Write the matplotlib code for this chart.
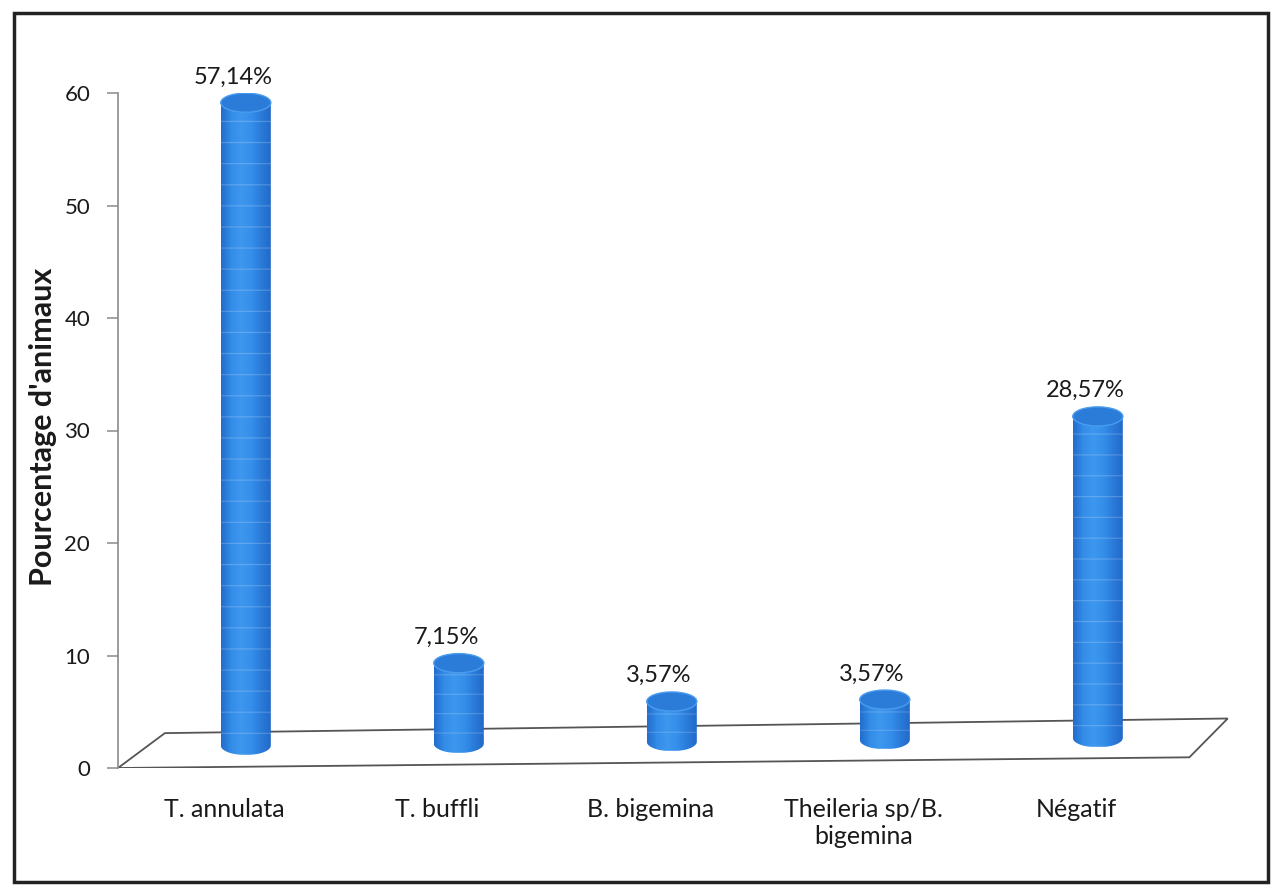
import numpy as np
import matplotlib
matplotlib.use('Agg')
import matplotlib.pyplot as plt
from matplotlib.patches import Ellipse, Polygon, PathPatch, Rectangle
from matplotlib.path import Path

# Data
categories = ['T. annulata', 'T. buffli', 'B. bigemina', 'Theileria sp/B.\nbigemina', 'Négatif']
values = [57.14, 7.15, 3.57, 3.57, 28.57]
value_labels = ['57,14%', '7,15%', '3,57%', '3,57%', '28,57%']
yticks = [0, 10, 20, 30, 40, 50, 60]

plt.rcParams['font.family'] = ['Lato', 'DejaVu Sans']

W, H = 1276, 885
fig = plt.figure(figsize=(W / 100, H / 100), dpi=100)

# axes placed in pixel terms: y axis at x=118, 0 at y=768, 60 at y=93
ax_left, ax_right = 118, 1240
ax_top, ax_bot = 93, 768
ax = fig.add_axes([ax_left / W, 1 - ax_bot / H, (ax_right - ax_left) / W, (ax_bot - ax_top) / H])
px_per_unit = 213.0
x0 = -0.6
ax.set_xlim(x0, x0 + (ax_right - ax_left) / px_per_unit)
ax.set_ylim(0, 60)

for s in ['top', 'right', 'bottom']:
    ax.spines[s].set_visible(False)
ax.spines['left'].set_color('#8a8a8a')
ax.spines['left'].set_linewidth(1.2)
ax.set_xticks([])
ax.set_yticks(yticks)
ax.tick_params(axis='y', direction='out', length=8, width=1.1, color='#8a8a8a',
               labelsize=16, pad=12, labelcolor='#1a1a1a')
ax.set_ylabel("Pourcentage d'animaux", fontsize=22, fontweight='bold', color='#1a1a1a')
ax.yaxis.set_label_coords(-(ax_left - 57) / (ax_right - ax_left), 0.505)

# floor of the 3D plot (slightly tilted, as on the printed page)
floor = Polygon([(-0.6, 0.0), (4.43, 0.95), (4.61, 4.4), (-0.38, 3.1)], closed=True,
                facecolor='none', edgecolor='#555555', linewidth=1.3, zorder=1)
ax.add_patch(floor)

# cylinder styling
bar_w = 0.235
ell_h = 1.7
cmap = matplotlib.colors.LinearSegmentedColormap.from_list(
    'cyl', ['#226ccc', '#338de8', '#3d97ee', '#358fea', '#2a7ad8', '#2068c8'])

for i, (val, lab) in enumerate(zip(values, value_labels)):
    base = 2.0 + 0.17 * i
    top = base + val
    xl, xr = i - bar_w / 2, i + bar_w / 2

    # body outline: straight sides plus lower half of the base ellipse
    t = np.linspace(np.pi, 2 * np.pi, 40)
    arc_x = i + bar_w / 2 * np.cos(t)
    arc_y = base + ell_h / 2 * np.sin(t)
    verts = [(xl, top)] + list(zip(arc_x, arc_y)) + [(xr, top), (xl, top)]
    codes = [Path.MOVETO] + [Path.LINETO] * (len(verts) - 2) + [Path.CLOSEPOLY]
    body = PathPatch(Path(verts, codes), facecolor='none', edgecolor='none', zorder=3)
    ax.add_patch(body)

    # horizontal shading across the cylinder, with faint light bands
    nrows = max(int((top - base + ell_h) * 10), 10)
    grad = np.tile(np.linspace(0, 1, 120), (nrows, 1))
    rgb = cmap(grad)[..., :3]
    band = (np.arange(nrows) % 19 == 0)
    rgb[band] = rgb[band] * 0.75 + 0.25 * np.array([0.85, 0.9, 0.98])
    img = ax.imshow(rgb, extent=(xl, xr, base - ell_h / 2, top), origin='lower',
                    aspect='auto', zorder=3, interpolation='bilinear')
    img.set_clip_path(body)

    # top cap
    cap = Ellipse((i, top), bar_w, ell_h, facecolor='#2a7cd8', edgecolor='#4a9cee',
                  linewidth=1.0, zorder=4)
    ax.add_patch(cap)

    ax.text(i - 0.06, top + ell_h / 2 + 0.5, lab, ha='center', va='bottom',
            fontsize=17, color='#1a1a1a', zorder=5)

    ax.text(i - 0.1, -2.7, categories[i], ha='center', va='top', fontsize=18,
            color='#1a1a1a', linespacing=1.2, clip_on=False)

# outer frame of the chart area
frame = Rectangle((14 / W, 3 / H), (1268 - 14) / W, (872 - 3) / H, transform=fig.transFigure,
                  facecolor='none', edgecolor='#222222', linewidth=2.5)
fig.patches.append(frame)

fig.savefig('out.png', dpi=100)
